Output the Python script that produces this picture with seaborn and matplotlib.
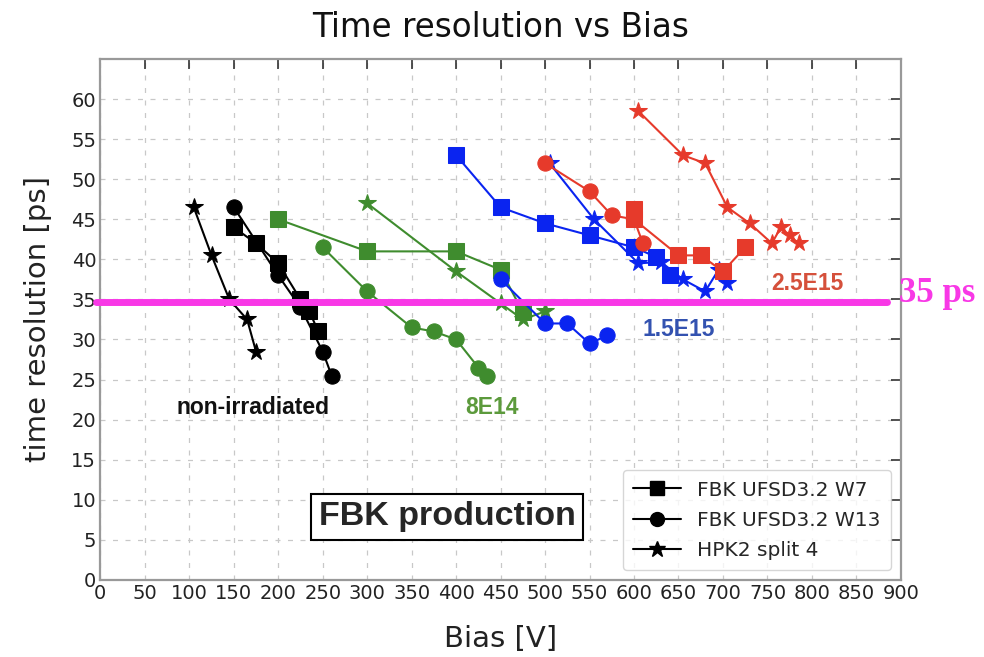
import matplotlib
matplotlib.use("Agg")
import matplotlib.pyplot as plt
from matplotlib.lines import Line2D
import seaborn as sns
import pandas as pd

# ---- data ----
devices = ["FBK UFSD3.2 W7", "FBK UFSD3.2 W13", "HPK2 split 4"]
fluences = ["non-irradiated", "8E14", "1.5E15", "2.5E15"]

nonirr_w7_bias = [150, 175, 200, 225, 235, 245]
nonirr_w7_res = [44, 42, 39.5, 35, 33.5, 31]
nonirr_w13_bias = [150, 200, 225, 250, 260]
nonirr_w13_res = [46.5, 38, 34, 28.5, 25.5]
nonirr_hpk_bias = [105, 125, 145, 165, 175]
nonirr_hpk_res = [46.5, 40.5, 35, 32.5, 28.5]

f8e14_w7_bias = [200, 300, 400, 450, 475]
f8e14_w7_res = [45, 41, 41, 38.7, 33.4]
f8e14_w13_bias = [250, 300, 350, 375, 400, 425, 435]
f8e14_w13_res = [41.5, 36, 31.5, 31, 30, 26.5, 25.5]
f8e14_hpk_bias = [300, 400, 450, 475, 500]
f8e14_hpk_res = [47, 38.5, 34.5, 32.5, 33.5]

f15e15_w7_bias = [400, 450, 500, 550, 600, 625, 640]
f15e15_w7_res = [53, 46.5, 44.5, 43, 41.5, 40.3, 38]
f15e15_w13_bias = [450, 500, 525, 550, 570]
f15e15_w13_res = [37.5, 32, 32, 29.5, 30.5]
f15e15_hpk_bias = [505, 555, 605, 630, 655, 680, 695, 705]
f15e15_hpk_res = [52, 45, 39.5, 39.7, 37.5, 36, 38.7, 37]

f25e15_w7_bias = [600, 600, 650, 675, 700, 725]
f25e15_w7_res = [46.3, 45, 40.5, 40.5, 38.5, 41.5]
f25e15_w13_bias = [500, 550, 575, 600, 610]
f25e15_w13_res = [52, 48.5, 45.5, 45, 42]
f25e15_hpk_bias = [605, 655, 680, 705, 730, 755, 765, 775, 785]
f25e15_hpk_res = [58.5, 53, 52, 46.5, 44.5, 42, 44, 43, 42]

threshold_ps = 34.7

series = [
    ("non-irradiated", "FBK UFSD3.2 W7", nonirr_w7_bias, nonirr_w7_res),
    ("non-irradiated", "FBK UFSD3.2 W13", nonirr_w13_bias, nonirr_w13_res),
    ("non-irradiated", "HPK2 split 4", nonirr_hpk_bias, nonirr_hpk_res),
    ("8E14", "FBK UFSD3.2 W7", f8e14_w7_bias, f8e14_w7_res),
    ("8E14", "FBK UFSD3.2 W13", f8e14_w13_bias, f8e14_w13_res),
    ("8E14", "HPK2 split 4", f8e14_hpk_bias, f8e14_hpk_res),
    ("1.5E15", "FBK UFSD3.2 W7", f15e15_w7_bias, f15e15_w7_res),
    ("1.5E15", "FBK UFSD3.2 W13", f15e15_w13_bias, f15e15_w13_res),
    ("1.5E15", "HPK2 split 4", f15e15_hpk_bias, f15e15_hpk_res),
    ("2.5E15", "FBK UFSD3.2 W7", f25e15_w7_bias, f25e15_w7_res),
    ("2.5E15", "FBK UFSD3.2 W13", f25e15_w13_bias, f25e15_w13_res),
    ("2.5E15", "HPK2 split 4", f25e15_hpk_bias, f25e15_hpk_res),
]

rows = []
for flu, dev, xs, ys in series:
    for i, (x, y) in enumerate(zip(xs, ys)):
        rows.append({"fluence": flu, "device": dev, "Bias": x, "res": y, "order": i})
df = pd.DataFrame(rows)

line_colors = {"non-irradiated": "#000000", "8E14": "#3f8c2e",
               "1.5E15": "#0a24f0", "2.5E15": "#e63a2b"}
text_colors = {"non-irradiated": "#111111", "8E14": "#5c9a3c",
               "1.5E15": "#3352b0", "2.5E15": "#d5503b"}
markers = {"FBK UFSD3.2 W7": "s", "FBK UFSD3.2 W13": "o", "HPK2 split 4": "*"}
msizes = {"FBK UFSD3.2 W7": 11, "FBK UFSD3.2 W13": 11, "HPK2 split 4": 13}

sns.set_style("white")
plt.rcParams["font.family"] = ["DejaVu Sans"]

fig = plt.figure(figsize=(9.84, 6.57), dpi=100)
ax = fig.add_axes([0.102, 0.1175, 0.8135, 0.7925])

for flu in fluences:
    for dev in devices:
        sub = df[(df.fluence == flu) & (df.device == dev)]
        sns.lineplot(data=sub, x="Bias", y="res", sort=False, estimator=None,
                     color=line_colors[flu], marker=markers[dev],
                     markersize=msizes[dev], markeredgecolor=line_colors[flu],
                     linewidth=1.5, ax=ax, legend=False)

ax.set_xlim(0, 900)
ax.set_ylim(0, 65)
ax.set_xticks(range(0, 901, 50))
ax.set_yticks(range(0, 61, 5))
ax.grid(True, linestyle=(0, (4, 6)), color="#c8c8c8", linewidth=0.9)
ax.tick_params(direction="in", length=7, width=1.2, top=True, right=True,
               labelsize=14, labelcolor="#222222", color="#333333", pad=3)
for s in ax.spines.values():
    s.set_color("#999999")
    s.set_linewidth(1.6)

ax.set_xlabel("Bias [V]", fontsize=21, color="#222222", labelpad=16)
ax.set_ylabel("time resolution [ps]", fontsize=21, color="#222222", labelpad=14)
ax.set_title("Time resolution vs Bias", fontsize=23.5, color="#111111", pad=16)

# annotations
ann_pos = {"non-irradiated": (172, 21.5), "8E14": (440, 21.5),
           "1.5E15": (650, 31.2), "2.5E15": (795, 37.0)}
for flu in fluences:
    x, y = ann_pos[flu]
    ax.text(x, y, flu, color=text_colors[flu], fontsize=16.5, fontweight="bold",
            family="Liberation Sans", ha="center", va="center")

ax.text(390, 7.9, "FBK production", fontsize=24.5, fontweight="bold",
        family="Liberation Sans", ha="center", va="center",
        bbox=dict(boxstyle="square,pad=0.22", fc="white", ec="black", lw=1.5))

# 35 ps threshold line
ax.axhline(threshold_ps, xmin=-0.005, xmax=0.983, color="#f838e6",
           linewidth=5, clip_on=False, zorder=5)
fig.text(899 / 984, 1 - 302 / 657, "35 ps",
         color="#f838e6", fontsize=25, fontweight="bold", family="Liberation Serif",
         ha="left", va="baseline")

handles = [Line2D([0], [0], color="black", marker=markers[d], markersize=msizes[d] - 1,
                  linewidth=1.5) for d in devices]
leg = ax.legend(handles, devices, loc="lower right", fontsize=14.5, frameon=True,
                handlelength=2.4, borderaxespad=0.5, labelspacing=0.55,
                handletextpad=0.8, borderpad=0.5, fancybox=True)
leg.get_frame().set_edgecolor("#cccccc")

fig.savefig("out.png", dpi=100)
